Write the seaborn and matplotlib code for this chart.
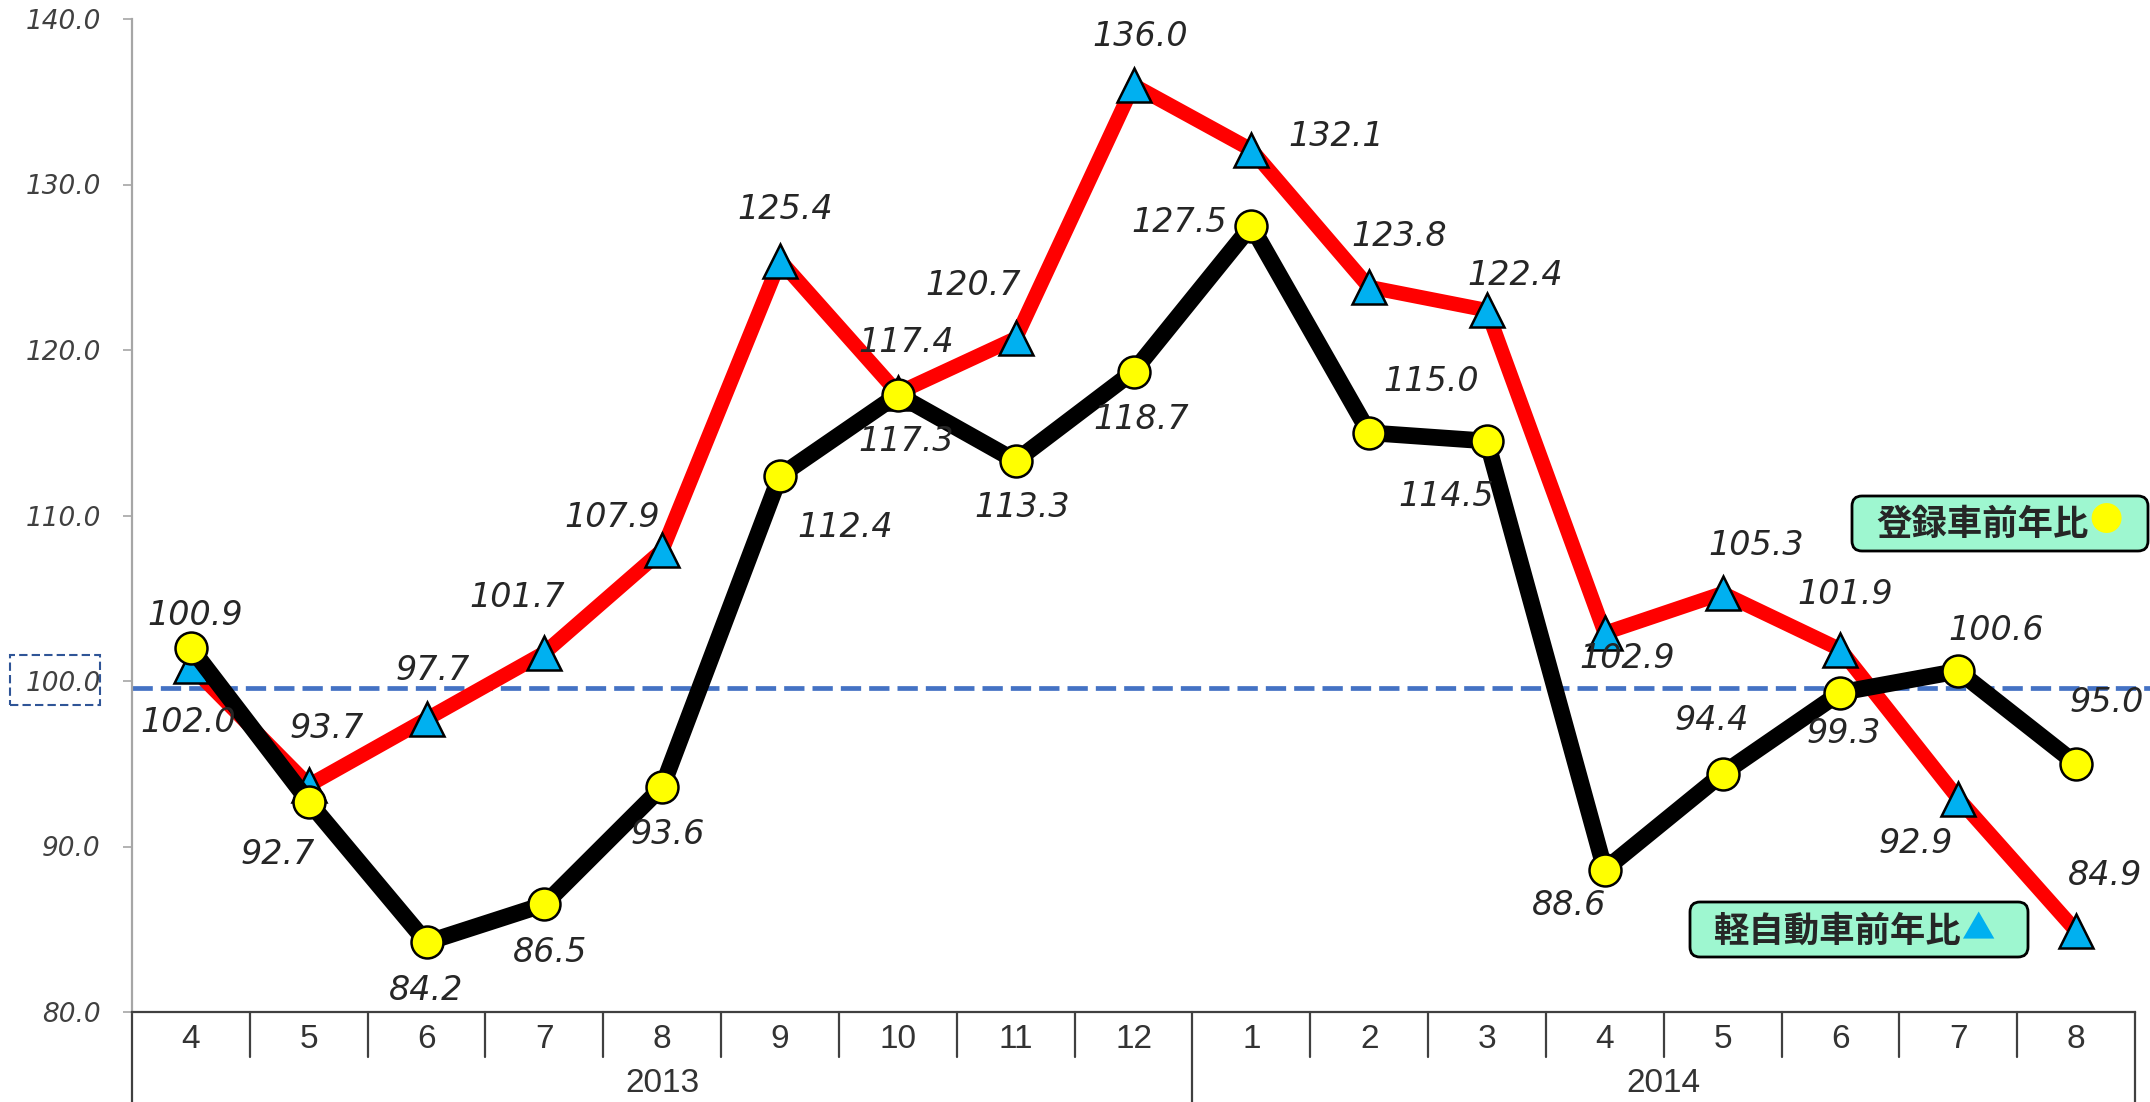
import matplotlib
matplotlib.use("Agg")
import matplotlib.pyplot as plt
import matplotlib.transforms as mtransforms
from matplotlib.patches import FancyBboxPatch, Rectangle
import seaborn as sns

# ---- Datos ----
MESES = ["4", "5", "6", "7", "8", "9", "10", "11", "12",
         "1", "2", "3", "4", "5", "6", "7", "8"]
ANIOS = ["2013", "2014"]
KEI = [100.9, 93.7, 97.7, 101.7, 107.9, 125.4, 117.4, 120.7, 136.0,
       132.1, 123.8, 122.4, 102.9, 105.3, 101.9, 92.9, 84.9]      # 軽自動車
TOROKU = [102.0, 92.7, 84.2, 86.5, 93.6, 112.4, 117.3, 113.3, 118.7,
          127.5, 115.0, 114.5, 88.6, 94.4, 99.3, 100.6, 95.0]     # 登録車
YTICKS = [80, 90, 100, 110, 120, 130, 140]
REF = 99.6

# desplazamiento de etiquetas (pixeles, +y hacia arriba)
KEI_OFF = [(4, 51), (18, 57), (6, 49), (-27, 55), (-50, 33), (5, 51), (8, 51),
           (-42, 53), (7, 49), (85, 13), (30, 51), (28, 35), (22, -25),
           (34, 48), (5, 55), (-43, -45), (29, 55)]
TOROKU_OFF = [(-3, -75), (-31, -53), (0, -48), (6, -48), (6, -48), (65, -52),
              (8, -47), (7, -47), (8, -48), (-72, 3), (62, 51), (-41, -55),
              (-36, -36), (-11, 53), (3, -41), (38, 41), (31, 61)]

W, H = 2150, 1102
sns.set_style("white")
plt.rcParams["font.family"] = ["DejaVu Sans", "Noto Sans CJK JP"]

fig = plt.figure(figsize=(W / 100, H / 100), dpi=100)
ax = fig.add_axes([132 / W, 1 - 1012 / H, (2135 - 132) / W, (1012 - 19) / H])

x = list(range(len(MESES)))

# ---- Series ----
sns.lineplot(x=x, y=KEI, ax=ax, color="#FF0000", linewidth=10.5,
             marker="^", markersize=25, markerfacecolor="#00B0F0",
             markeredgecolor="black", markeredgewidth=1.8, zorder=3)
sns.lineplot(x=x, y=TOROKU, ax=ax, color="black", linewidth=12,
             marker="o", markersize=23, markerfacecolor="#FFFF00",
             markeredgecolor="black", markeredgewidth=1.8, zorder=4)

for i, v in enumerate(KEI):
    ax.annotate(f"{v:.1f}", (i, v), xytext=KEI_OFF[i], textcoords="offset pixels",
                ha="center", va="center", fontsize=24, style="italic", zorder=6)
for i, v in enumerate(TOROKU):
    ax.annotate(f"{v:.1f}", (i, v), xytext=TOROKU_OFF[i], textcoords="offset pixels",
                ha="center", va="center", fontsize=24, style="italic", zorder=6)

# linea de referencia
ax.axhline(REF, xmin=0, xmax=(W - 132) / (2135 - 132), color="#4472C4",
           linewidth=3.4, dashes=(4.3, 1.7), clip_on=False, zorder=2)

# ---- Ejes ----
ax.set_xlim(-0.5, len(MESES) - 0.5)
ax.set_ylim(80, 140)
ax.set_yticks(YTICKS)
ax.set_yticklabels([f"{v:.1f}" for v in YTICKS], fontsize=19, style="italic",
                   color="#404040")
ax.tick_params(axis="y", length=6.5, width=1.2, color="#A6A6A6", pad=16, left=True)
ax.set_xticks([])
ax.set_xlabel("")
ax.set_ylabel("")
for s in ["top", "right"]:
    ax.spines[s].set_visible(False)
ax.spines["left"].set_color("#A6A6A6")
ax.spines["left"].set_linewidth(1.6)
ax.spines["bottom"].set_color("#404040")
ax.spines["bottom"].set_linewidth(1.6)

# tabla de categorias bajo el eje
trans = ax.get_xaxis_transform()
fondo = -(H - 1012) / (1012 - 19)
medio = -(1057 - 1012) / (1012 - 19)
for k in range(len(MESES) + 1):
    xs = k - 0.5
    y1 = fondo if k in (0, 9, len(MESES)) else medio
    ax.plot([xs, xs], [0, y1], transform=trans, color="#404040",
            linewidth=1.6, clip_on=False)
for i, m in enumerate(MESES):
    ax.text(i, -(1040 - 1012) / (1012 - 19), m, transform=trans, ha="center",
            va="center", fontsize=24, color="#333333", family="Liberation Sans")
for centro, anio in zip([4, 12.5], ANIOS):
    ax.text(centro, -(1084 - 1012) / (1012 - 19), anio, transform=trans,
            ha="center", va="center", fontsize=24, color="#333333",
            family="Liberation Sans")

# recuadro punteado en 100.0
fig.add_artist(Rectangle((10 / W, 1 - 705 / H), 90 / W, 50 / H,
                         transform=fig.transFigure, fill=False,
                         edgecolor="#2F5597", linewidth=1.5, linestyle=(0, (4, 2))))

# ---- Leyendas (cuadros) ----
ident = mtransforms.IdentityTransform()
for (x0, y0, w, h) in [(1852, H - 551, 296, 55), (1690, H - 957, 338, 55)]:
    fig.add_artist(FancyBboxPatch((x0, y0), w, h, transform=ident,
                                  boxstyle="round,pad=0,rounding_size=10",
                                  facecolor="#9EF7D0", edgecolor="black",
                                  linewidth=2))

cjk = ["Noto Sans CJK JP", "DejaVu Sans"]
fig.text(1876 / W, 1 - 524 / H, "登録車前年比", fontsize=25.5, family=cjk,
         weight="bold", ha="left", va="center")
fig.text(2106 / W, 1 - 522 / H, "●", fontsize=24, family=cjk,
         color="#FFFF00", ha="center", va="center")
fig.text(1714 / W, 1 - 931 / H, "軽自動車前年比", fontsize=25.5, family=cjk,
         weight="bold", ha="left", va="center")
fig.text(1979 / W, 1 - 930 / H, "▲", fontsize=24, family=cjk,
         color="#00B0F0", ha="center", va="center")

fig.savefig("out.png", dpi=100)
